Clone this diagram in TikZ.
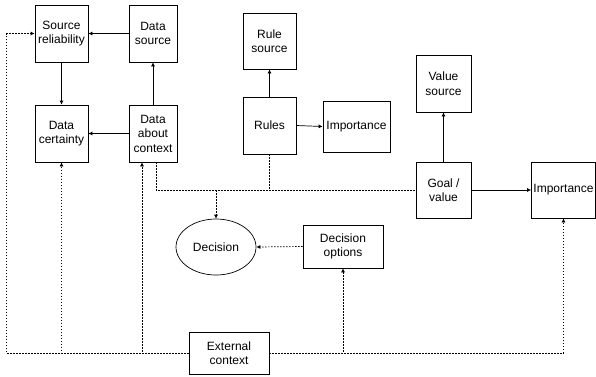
\documentclass[tikz,border=0pt]{standalone}
\usepackage{fontspec}
\setmainfont{Liberation Sans}
\usetikzlibrary{arrows.meta, shapes.geometric}

\begin{document}
\begin{tikzpicture}[x=1pt, y=-1pt, >={Latex[length=4pt, width=4pt]},
    box/.style={draw, line width=0.7pt, align=center, inner sep=1pt,
        font=\fontsize{12}{14.5}\selectfont},
    flow/.style={->, line width=0.7pt},
    link/.style={line width=0.7pt, dash pattern=on 1.5pt off 1.5pt}]

    \useasboundingbox (0,0) rectangle (596,376);

    % the data boxes on the left:

    \node[box, minimum width=53pt, minimum height=57pt] (srcrel) at (61.5,33.5) {Source\\reliability};
    \node[box, minimum width=48pt, minimum height=57pt] (datasrc) at (153,33.5) {Data\\source};
    \node[box, minimum width=53pt, minimum height=57pt] (certainty) at (61.5,133.5) {Data\\certainty};
    \node[box, minimum width=48pt, minimum height=57pt] (context) at (153,133.5) {Data\\about\\context};

    % rules and goal in the middle and on the right

    \node[box, minimum width=53pt, minimum height=56pt] (rulesrc) at (269.5,41) {Rule\\source};
    \node[box, minimum width=53pt, minimum height=57pt] (rules) at (269.5,125.5) {Rules};
    \node[box, minimum width=67pt, minimum height=51pt] (ruleimp) at (356.5,126.5) {Importance};
    \node[box, minimum width=55pt, minimum height=57pt] (valsrc) at (443.5,83.5) {Value\\source};
    \node[box, minimum width=55pt, minimum height=56pt] (goal) at (443.5,190) {Goal /\\value};
    \node[box, minimum width=64pt, minimum height=56pt] (goalimp) at (563.5,190) {Importance};

    % decision, its options and the outside context

    \node[box, ellipse, minimum width=80pt, minimum height=56pt] (decision) at (216,247) {Decision};
    \node[box, minimum width=80pt, minimum height=43pt] (options) at (343,246.5) {Decision\\options};
    \node[box, minimum width=80pt, minimum height=42pt] (ext) at (229,353) {External\\context};

    % solid arrows:

    \draw[flow] (datasrc.west) -- (srcrel.east);
    \draw[flow] (srcrel.south) -- (certainty.north);
    \draw[flow] (context.west) -- (certainty.east);
    \draw[flow] (context.north) -- (datasrc.south);
    \draw[flow] (rules.north) -- (rulesrc.south);
    \draw[flow] (rules.east) -- (ruleimp.west);
    \draw[flow] (goal.north) -- (valsrc.south);
    \draw[flow] (goal.east) -- (goalimp.west);

    % dotted links into the decision
    \draw[link] ([xshift=3pt]context.south) |- (goal.west);
    \draw[link] (rules.south) -- (rules.south |- goal.west);
    \coordinate (split) at (decision.north |- goal.west);
    \draw[link, ->] (split) -- (decision.north);
    \draw[link, ->] (options.west) -- (decision.east);

    % dotted links from the external context
    \draw[link, ->] (ext.west) -| ([xshift=-28pt]srcrel.west) -- (srcrel.west);
    \draw[link, ->] (ext.west) -| (certainty.south);
    \draw[link, ->] (ext.west) -| ([xshift=-11pt]context.south);
    \draw[link, ->] (ext.east) -| (options.south);
    \draw[link, ->] (ext.east) -| (goalimp.south);
%
\end{tikzpicture}
\end{document}
